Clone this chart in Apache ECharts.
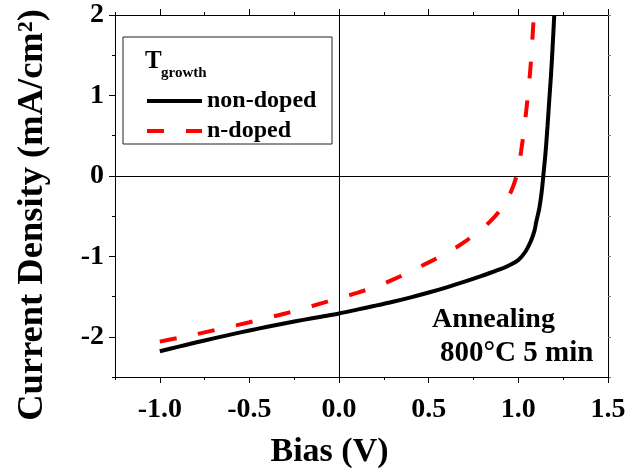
<!DOCTYPE html>
<html>
<head>
<meta charset="utf-8">
<script src="https://cdn.jsdelivr.net/npm/echarts@6/dist/echarts.min.js"></script>
<style>html,body{margin:0;padding:0;background:#fff}#c{width:630px;height:474px}</style>
</head>
<body>
<div id="c"></div>
<script>
// ---- data ----
const biasNonDoped = [-1.0,-0.9,-0.8,-0.7,-0.6,-0.5,-0.4,-0.3,-0.2,-0.1,0.0,0.1,0.2,0.3,0.4,0.5,0.6,0.7,0.8,0.9,0.95,1.0,1.04,1.07,1.09,1.10,1.117,1.13,1.14,1.152,1.163,1.172,1.182,1.191,1.20];
const currentNonDoped = [-2.18,-2.125,-2.072,-2.02,-1.97,-1.922,-1.876,-1.832,-1.79,-1.75,-1.71,-1.663,-1.615,-1.565,-1.51,-1.45,-1.385,-1.315,-1.24,-1.16,-1.11,-1.045,-0.94,-0.81,-0.68,-0.57,-0.40,-0.20,0.02,0.30,0.63,0.93,1.25,1.60,1.99];
const biasNDoped = [-1.0,-0.9,-0.8,-0.7,-0.6,-0.5,-0.4,-0.3,-0.2,-0.1,0.0,0.1,0.2,0.3,0.4,0.5,0.6,0.7,0.8,0.85,0.9,0.95,0.99,1.015,1.043,1.067,1.085];
const currentNDoped = [-2.06,-2.015,-1.97,-1.92,-1.87,-1.82,-1.765,-1.71,-1.65,-1.585,-1.52,-1.455,-1.38,-1.29,-1.185,-1.075,-0.96,-0.82,-0.65,-0.55,-0.42,-0.24,0.0,0.30,0.79,1.33,1.95];
const seriesNames = ['non-doped', 'n-doped'];
const xMajorTicks = [-1.0,-0.5,0.0,0.5,1.0,1.5];
const xMinorTicks = [-1.25,-0.75,-0.25,0.25,0.75,1.25];
const yMajorTicks = [-2,-1,0,1,2];
const yMinorTicks = [-2.5,-1.5,-0.5,0.5,1.5];
const yAllTicks = [-2.5,-2,-1.5,-1,-0.5,0,0.5,1,1.5,2];
const xTitle = 'Bias (V)';
const yTitle = 'Current Density (mA/cm\u00B2)';
const legendTitle = 'T';
const legendTitleSub = 'growth';
const noteLines = ['Annealing', '800\u00B0C 5 min'];

const FONT = "'Liberation Serif','Times New Roman',serif";
const pairs = (xs, ys) => xs.map((x, i) => [x, ys[i]]);

function xAx(pos, ticks, len, withLabel, showLine, extra) {
  return Object.assign({
    type: 'value', position: pos, min: -1.25, max: 1.5,
    axisLine: { show: showLine, onZero: false, lineStyle: { color: '#000', width: 1 } },
    axisTick: { show: true, customValues: ticks, length: len, lineStyle: { color: '#000', width: 1 } },
    axisLabel: withLabel ? {
      show: true, customValues: ticks, formatter: v => v.toFixed(1),
      fontFamily: FONT, fontWeight: 'bold', fontSize: 28, color: '#000', margin: 19
    } : { show: false },
    splitLine: { show: false }
  }, extra || {});
}
function yAx(pos, ticks, len, withLabel, showLine, color, extra) {
  return Object.assign({
    type: 'value', position: pos, min: -2.5, max: 2,
    axisLine: { show: showLine, onZero: false, lineStyle: { color: '#000', width: 1 } },
    axisTick: { show: true, customValues: ticks, length: len, lineStyle: { color: color, width: 1 } },
    axisLabel: withLabel ? {
      show: true, customValues: ticks, formatter: v => String(v),
      fontFamily: FONT, fontWeight: 'bold', fontSize: 28, color: '#000', margin: 11
    } : { show: false },
    splitLine: { show: false }
  }, extra || {});
}

const chart = echarts.init(document.getElementById('c'), null, { renderer: 'canvas' });
chart.setOption({
  backgroundColor: '#fff',
  animation: false,
  grid: { left: 115, right: 22, top: 15, bottom: 95, containLabel: false },
  xAxis: [
    xAx('bottom', xMajorTicks, 6, true, true, {
      name: xTitle, nameLocation: 'middle', nameGap: 58,
      nameTextStyle: { fontFamily: FONT, fontWeight: 'bold', fontSize: 34, color: '#000', padding: [0, 64, 0, 0] }
    }),
    xAx('bottom', xMinorTicks, 3, false, false),
    xAx('top', xMajorTicks, 6, false, true),
    xAx('top', xMinorTicks, 3, false, false)
  ],
  yAxis: [
    yAx('left', yMajorTicks, 6, true, true, '#000', {
      name: yTitle, nameLocation: 'middle', nameGap: 64, nameRotate: 90,
      nameTextStyle: { fontFamily: FONT, fontWeight: 'bold', fontSize: 36.5, color: '#000', padding: [0, 38, 0, 0] }
    }),
    yAx('left', yMinorTicks, 3, false, false, '#000'),
    yAx('right', yAllTicks, 3, false, true, '#777')
  ],
  legend: {
    data: seriesNames, orient: 'vertical', left: 145, top: 89, padding: 0, itemGap: 6,
    itemWidth: 55, itemHeight: 14,
    lineStyle: { width: 4 },
    itemStyle: { opacity: 0, color: 'rgba(0,0,0,0)', borderWidth: 0 },
    textStyle: { fontFamily: FONT, fontWeight: 'bold', fontSize: 24, color: '#000' },
    selectedMode: false
  },
  graphic: [
    { type: 'rect', shape: { x: 123, y: 37, width: 209, height: 107 }, style: { fill: 'none', stroke: '#222', lineWidth: 1 }, silent: true },
    { type: 'text', x: 145, y: 61.5, style: { text: legendTitle, font: "bold 25px " + FONT, fill: '#000', verticalAlign: 'middle' }, silent: true },
    { type: 'text', x: 161, y: 73.5, style: { text: legendTitleSub, font: "bold 15px " + FONT, fill: '#000', verticalAlign: 'middle' }, silent: true },
    { type: 'text', x: 432, y: 319.5, style: { text: noteLines[0], font: "bold 28px " + FONT, fill: '#000', verticalAlign: 'middle' }, silent: true },
    { type: 'text', x: 440, y: 353.5, style: { text: noteLines[1], font: "bold 29px " + FONT, fill: '#000', verticalAlign: 'middle' }, silent: true }
  ],
  series: [
    {
      name: seriesNames[0], type: 'line', xAxisIndex: 0, yAxisIndex: 0,
      data: pairs(biasNonDoped, currentNonDoped), symbol: 'none', smooth: 0.3, clip: true,
      lineStyle: { color: '#000', width: 4 }, itemStyle: { color: '#000' }, z: 3,
      markLine: {
        silent: true, symbol: 'none', label: { show: false },
        lineStyle: { color: '#000', width: 1, type: 'solid' },
        data: [{ xAxis: 0 }, { yAxis: 0 }], z: 1
      }
    },
    {
      name: seriesNames[1], type: 'line', xAxisIndex: 0, yAxisIndex: 0,
      data: pairs(biasNDoped, currentNDoped), symbol: 'none', smooth: 0.3, clip: true,
      lineStyle: { color: '#ff0000', width: 4, type: [17, 22] }, itemStyle: { color: '#ff0000' }, z: 3
    }
  ]
});
</script>
</body>
</html>
